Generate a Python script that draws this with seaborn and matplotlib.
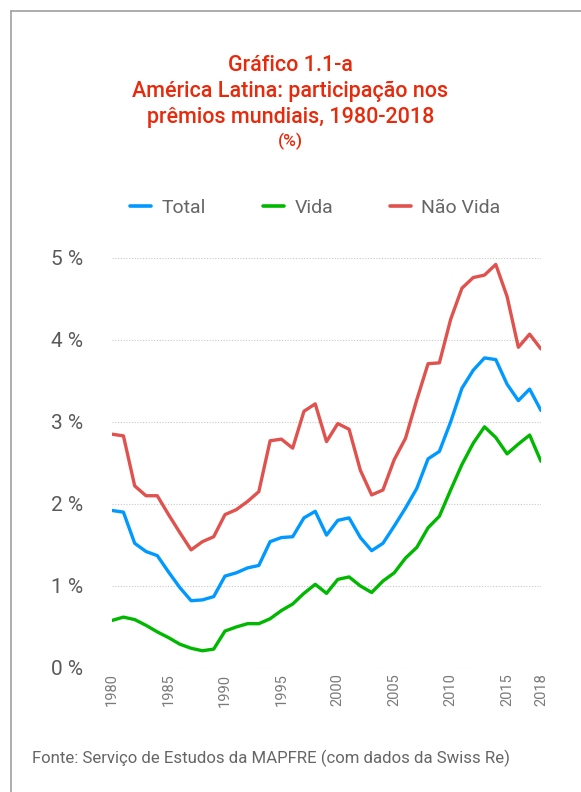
import numpy as np
import pandas as pd
import matplotlib.pyplot as plt
import seaborn as sns
from matplotlib.lines import Line2D

years = list(range(1980, 2019))
total = [1.92, 1.90, 1.52, 1.42, 1.37, 1.17, 0.98, 0.82, 0.83, 0.87,
         1.12, 1.16, 1.22, 1.25, 1.54, 1.59, 1.60, 1.83, 1.91, 1.62,
         1.80, 1.83, 1.59, 1.43, 1.52, 1.73, 1.95, 2.19, 2.55, 2.64,
         3.00, 3.41, 3.63, 3.78, 3.76, 3.46, 3.26, 3.40, 3.14]
vida = [0.58, 0.62, 0.59, 0.52, 0.44, 0.37, 0.29, 0.24, 0.21, 0.23,
        0.45, 0.50, 0.54, 0.54, 0.60, 0.70, 0.78, 0.91, 1.02, 0.91,
        1.08, 1.11, 1.00, 0.92, 1.06, 1.16, 1.34, 1.47, 1.71, 1.85,
        2.17, 2.48, 2.74, 2.94, 2.81, 2.61, 2.73, 2.84, 2.52]
nao_vida = [2.85, 2.83, 2.22, 2.10, 2.10, 1.87, 1.65, 1.44, 1.54, 1.60,
            1.87, 1.93, 2.03, 2.15, 2.77, 2.79, 2.68, 3.13, 3.22, 2.76,
            2.98, 2.91, 2.41, 2.11, 2.17, 2.54, 2.80, 3.27, 3.71, 3.72,
            4.25, 4.63, 4.76, 4.79, 4.92, 4.53, 3.91, 4.07, 3.89]
series = ["Total", "Vida", "Não Vida"]
colors = ["#0099FF", "#00B800", "#E0524E"]
xticks = [1980, 1985, 1990, 1995, 2000, 2005, 2010, 2015, 2018]
yticks = [0, 1, 2, 3, 4, 5]

df = pd.DataFrame({"ano": years, "Total": total, "Vida": vida, "Não Vida": nao_vida})
long = df.melt(id_vars="ano", var_name="serie", value_name="valor")

sns.set_style("white")
plt.rcParams["font.family"] = ["Roboto", "DejaVu Sans"]

fig = plt.figure(figsize=(5.81, 7.92), dpi=100)
ax = fig.add_axes([0.193, 0.1566, 0.738, 0.5178])

sns.lineplot(data=long, x="ano", y="valor", hue="serie", hue_order=series,
             palette=colors, linewidth=2.4, ax=ax, legend=False)

ax.set_xlim(1980, 2018)
ax.set_ylim(0, 5)
ax.set_yticks(yticks)
ax.set_yticklabels([f"{v} %" for v in yticks], fontsize=15, color="#5a5a5a")
ax.set_xticks(xticks)
ax.set_xticklabels([str(x) for x in xticks], rotation=90, fontsize=10.5,
                   color="#7a7a7a")
ax.tick_params(axis="both", length=0)
ax.tick_params(axis="y", pad=21)
ax.tick_params(axis="x", pad=4)
ax.set_xlabel("")
ax.set_ylabel("")
ax.yaxis.grid(True, linestyle=(0, (1, 1.5)), color="#c8c8c8", linewidth=0.8)
ax.xaxis.grid(False)
for s in ax.spines.values():
    s.set_visible(False)

handles = [Line2D([0], [0], color=c, lw=2.6) for c in colors]
leg = ax.legend(handles, series, ncol=3, loc="center", bbox_to_anchor=(0.474, 1.122),
                frameon=False, fontsize=14, handlelength=1.08, columnspacing=2.9,
                handletextpad=0.55)
for t in leg.get_texts():
    t.set_color("#666666")

red = "#E8290B"
fig.text(0.5, 0.8845, "Gráfico 1.1-a\nAmérica Latina: participação nos\nprêmios mundiais, 1980-2018",
         ha="center", va="center", fontsize=15.5, color=red, linespacing=1.29,
         fontweight="medium")
fig.text(0.5, 0.822, "(%)", ha="center", va="center", fontsize=12.5, color=red,
         fontweight="medium")

fig.text(0.055, 0.043, "Fonte: Serviço de Estudos da MAPFRE (com dados da Swiss Re)",
         ha="left", va="center", fontsize=12.1, color="#666666")

# moldura
fig.add_artist(Line2D([0.019, 0.019], [0.0, 0.986], color="#a0a0a0", lw=1.2))
fig.add_artist(Line2D([0.019, 1.0], [0.986, 0.986], color="#a0a0a0", lw=1.2))

plt.savefig("out.png", dpi=100)
